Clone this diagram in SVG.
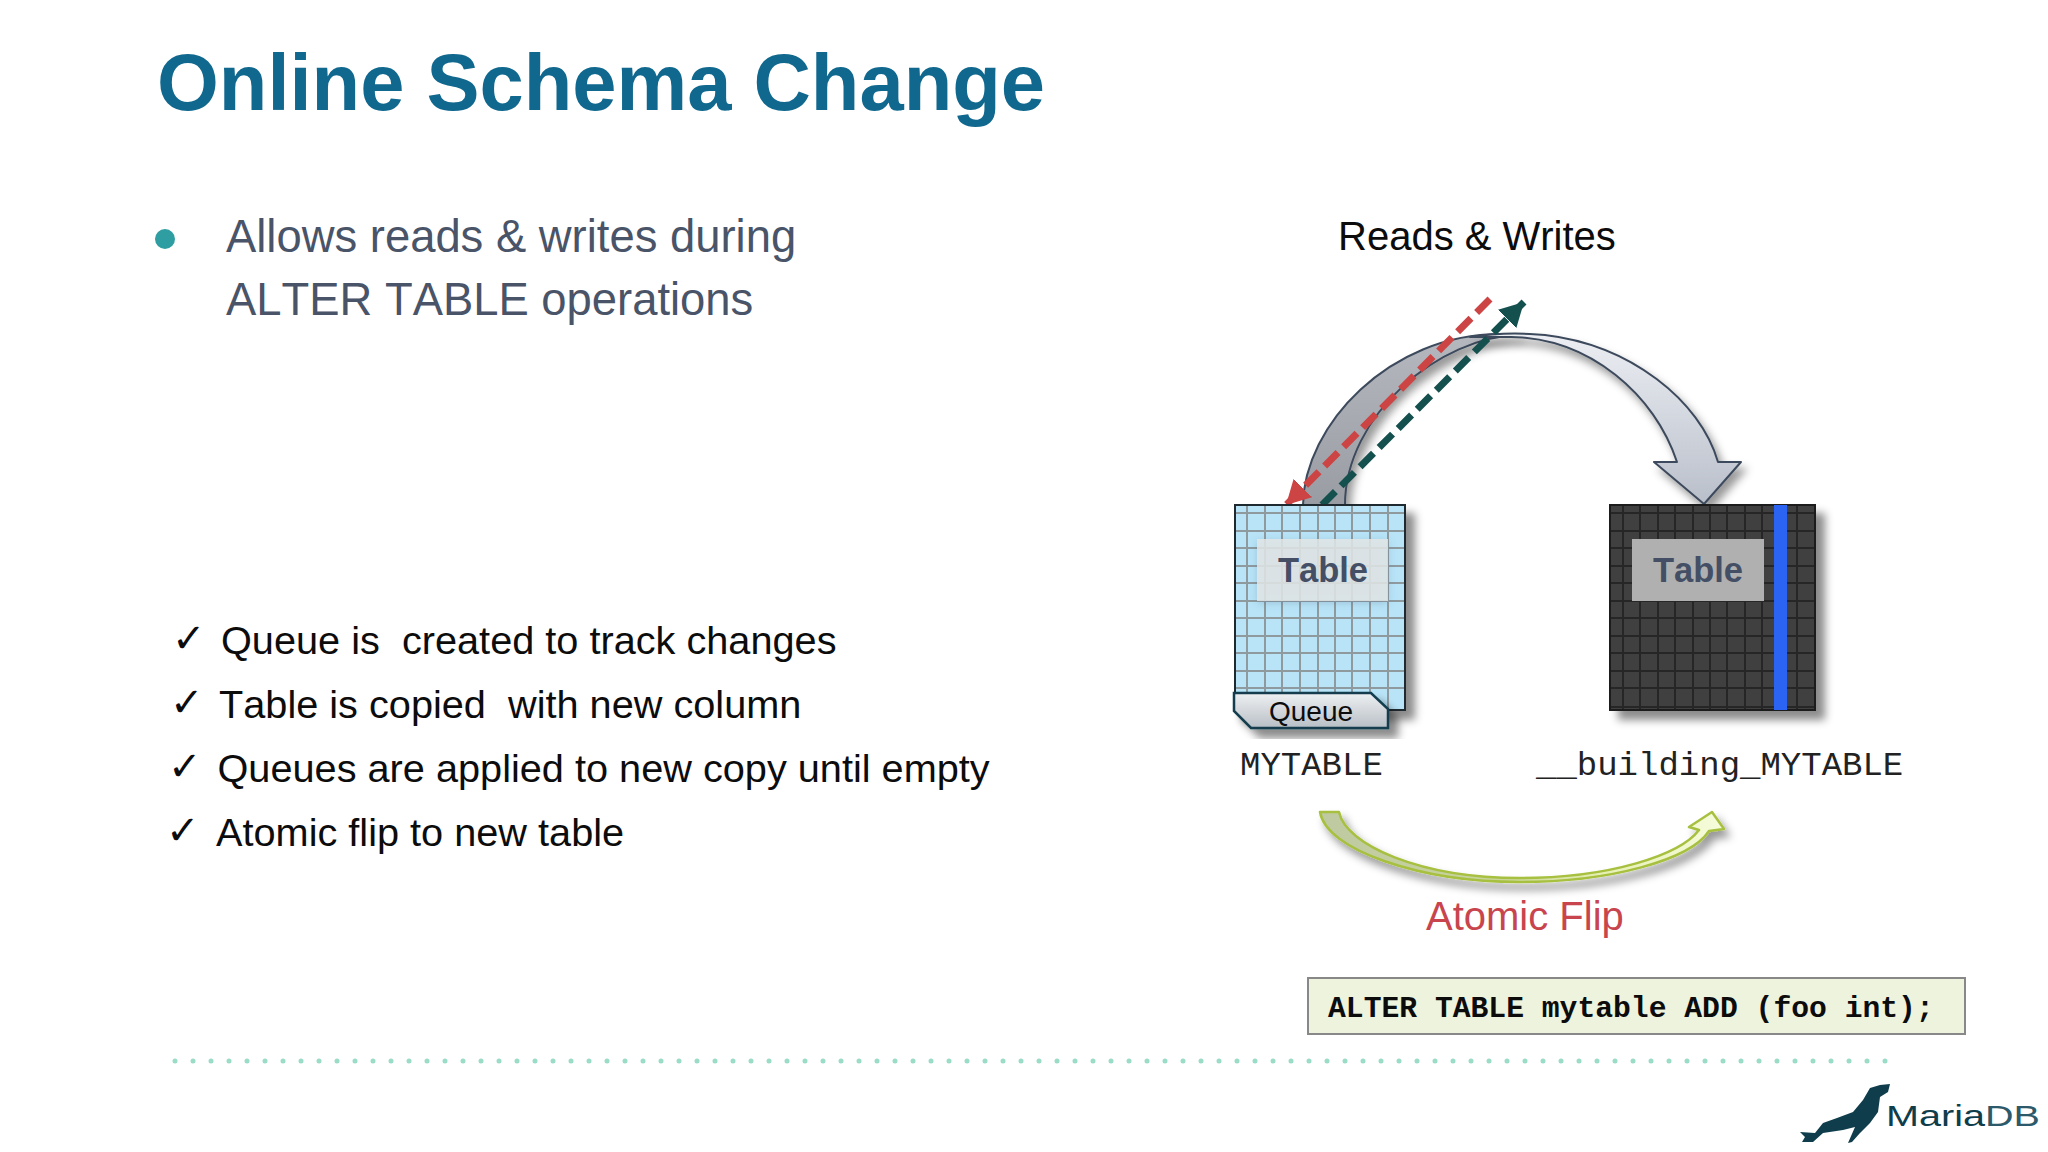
<svg xmlns="http://www.w3.org/2000/svg" width="2048" height="1152" viewBox="0 0 2048 1152">
<style>
text{font-family:"Liberation Sans",Arial,sans-serif;font-kerning:none;white-space:pre}
.mono{font-family:"Liberation Mono","Courier New",monospace}
.body{font-size:39.7px;fill:#0c0c0c}
.check{font-family:"DejaVu Sans",sans-serif;font-size:40px;fill:#0c0c0c}
.lead{font-size:45.4px;fill:#4a5468}
.tlabel{font-size:34.5px;font-weight:bold;fill:#444f66;text-anchor:middle}
.name{font-size:34px;fill:#222}
.dash{fill:none;stroke-width:7;stroke-dasharray:19 8}
</style>
<defs>
<filter id="sh" x="-20%" y="-20%" width="150%" height="150%"><feDropShadow dx="9" dy="9" stdDeviation="4" flood-color="#000" flood-opacity=".45"/></filter>
<filter id="sh2" x="-20%" y="-20%" width="150%" height="150%"><feDropShadow dx="5" dy="7" stdDeviation="4" flood-color="#000" flood-opacity=".4"/></filter>
<filter id="sh3" x="-20%" y="-30%" width="140%" height="170%"><feDropShadow dx="0" dy="2" stdDeviation="4" flood-color="#406080" flood-opacity=".3"/></filter>
<linearGradient id="gr" x1="0" y1="0" x2="0" y2="1"><stop offset="0" stop-color="#eceef3"/><stop offset="1" stop-color="#b9bfca"/></linearGradient>
<linearGradient id="gl" x1="0" y1="0" x2="0" y2="1"><stop offset="0" stop-color="#b5b8be"/><stop offset="1" stop-color="#999ca3"/></linearGradient>
<linearGradient id="gq" x1="0" y1="0" x2="0" y2="1"><stop offset="0" stop-color="#eef0f2"/><stop offset="1" stop-color="#b8bfc6"/></linearGradient>
<linearGradient id="gf" x1="0" y1="0" x2="1" y2="0"><stop offset="0" stop-color="#bfc9a2"/><stop offset=".45" stop-color="#c9d59b"/><stop offset=".7" stop-color="#e6f0b4"/><stop offset="1" stop-color="#f6fcdc"/></linearGradient>
<marker id="mr" markerUnits="userSpaceOnUse" markerWidth="28" markerHeight="26" refX="24" refY="13" orient="auto"><path d="M0,0L24,13L0,26z" fill="#cc4444"/></marker>
<marker id="mg" markerUnits="userSpaceOnUse" markerWidth="28" markerHeight="26" refX="24" refY="13" orient="auto"><path d="M0,0L24,13L0,26z" fill="#14504e"/></marker>
</defs>
<rect width="2048" height="1152" fill="#fff"/>
<text x="157" y="110" font-size="79.5" font-weight="bold" fill="#10688e">Online Schema Change</text>
<circle cx="165" cy="239" r="10" fill="#2f9ea2"/>
<text class="lead" x="226" y="252">Allows reads &amp; writes during</text>
<text class="lead" x="226" y="315">ALTER TABLE operations</text>
<g>
<text class="check" x="172" y="652">✓</text><text class="body" x="221" y="654">Queue is  created to track changes</text>
<text class="check" x="170" y="716">✓</text><text class="body" x="219" y="718">Table is copied  with new column</text>
<text class="check" x="168" y="780">✓</text><text class="body" x="217.5" y="782">Queues are applied to new copy until empty</text>
<text class="check" x="166" y="844">✓</text><text class="body" x="216" y="846">Atomic flip to new table</text>
</g>
<text x="1338" y="249.5" font-size="40" fill="#0c0c0c">Reads &amp; Writes</text>

<g id="connectors">
<g id="schema-arrow" stroke="#3d4a5c" stroke-width="2" stroke-linejoin="round">
<path filter="url(#sh2)" fill="url(#gl)" d="M1303,505C1304,425 1390,334 1500,334L1520,335C1440,336 1345,415 1345,505z"/>
<path filter="url(#sh2)" fill="url(#gr)" d="M1470,337C1495,333 1525,333 1545,335C1630,345 1700,400 1718,462L1741,462L1704,504L1654,462L1677,462C1655,395 1590,338 1511,337C1495,337 1480,337 1470,337z"/>
</g>
<path id="write-line" class="dash" stroke="#cc4444" marker-end="url(#mr)" d="M1490,299L1286,505"/>
<path id="read-line" class="dash" stroke="#14504e" marker-end="url(#mg)" d="M1322,505L1524,302"/>
<path id="flip-arrow" filter="url(#sh2)" fill="url(#gf)" stroke="#a7c040" stroke-width="2.5" stroke-linejoin="round" d="M1320,812L1339,812C1346,845 1420,878 1520,878C1610,878 1680,855 1699,830L1689,827L1712,812L1724,829L1709,831C1690,860 1610,882 1520,882C1420,882 1326,850 1320,812z"/>
</g>

<g id="mytable">
<rect x="1235" y="505" width="170" height="205" fill="#b9e4f7" stroke="#1f2a30" stroke-width="2" filter="url(#sh)"/>
<path d="M1247,506V709M1265,506V709M1282,506V709M1300,506V709M1318,506V709M1335,506V709M1352,506V709M1370,506V709M1388,506V709M1236,513H1404M1236,531H1404M1236,548H1404M1236,566H1404M1236,583H1404M1236,601H1404M1236,618H1404M1236,636H1404M1236,653H1404M1236,671H1404M1236,688H1404" stroke="#8e9a9e" stroke-width="2" fill="none"/>
<rect x="1235" y="505" width="170" height="205" fill="none" stroke="#1f2a30" stroke-width="2"/>
<rect x="1257" y="539" width="131" height="62" fill="#e2e6e6" fill-opacity=".85" filter="url(#sh3)"/>
<text class="tlabel" x="1323" y="582">Table</text>
</g>
<g id="queue">
<path d="M1234,693H1371L1388,709V728H1251L1234,711z" fill="url(#gq)" stroke="#123d4e" stroke-width="2.5" filter="url(#sh)"/>
<text x="1311" y="721" font-size="28" text-anchor="middle" fill="#0c0c0c">Queue</text>
</g>
<text class="mono name" x="1240" y="775">MYTABLE</text>

<g id="building-mytable">
<rect x="1610" y="505" width="205" height="205" fill="#3f3f3f" stroke="#1a1a1a" stroke-width="2" filter="url(#sh)"/>
<path d="M1623,506V709M1640,506V709M1658,506V709M1675,506V709M1693,506V709M1710,506V709M1727,506V709M1745,506V709M1762,506V709M1797,506V709M1611,513H1814M1611,531H1814M1611,548H1814M1611,566H1814M1611,583H1814M1611,601H1814M1611,618H1814M1611,636H1814M1611,653H1814M1611,671H1814M1611,688H1814M1611,707H1814" stroke="#262626" stroke-width="2" fill="none"/>
<rect x="1774" y="505" width="13" height="205" fill="#2b63f3"/>
<rect x="1632" y="539" width="132" height="62" fill="#b0b0b0"/>
<text class="tlabel" x="1698" y="582">Table</text>
</g>
<text class="mono name" x="1536" y="775">__building_MYTABLE</text>

<text x="1426" y="930" font-size="40" fill="#c8454e">Atomic Flip</text>

<g id="alter-box">
<rect x="1308" y="978" width="657" height="56" fill="#edf3dc" stroke="#888" stroke-width="2"/>
<text class="mono" x="1328" y="1016.5" font-size="29.7" font-weight="bold" fill="#0c0c0c">ALTER TABLE mytable ADD (foo int);</text>
</g>

<line x1="175" y1="1061" x2="1890" y2="1061" stroke="#9adcc8" stroke-width="5" stroke-linecap="round" stroke-dasharray="0 18"/>

<g id="logo">
<path fill="#0f3d4c" d="M1890,1084L1888,1092L1880,1097L1878,1112L1870,1123L1860,1133L1852,1142L1848,1143L1855,1127L1843,1130L1823,1133L1813,1142L1802,1142L1805,1137L1800,1132L1815,1133L1823,1123L1837,1118L1853,1112L1863,1100L1870,1088L1880,1085z"/>
<text x="1886" y="1126" font-size="30" textLength="154" lengthAdjust="spacingAndGlyphs" fill="#0f3d4c">Maria<tspan fill="#2d5a6a">DB</tspan></text>
</g>
</svg>
